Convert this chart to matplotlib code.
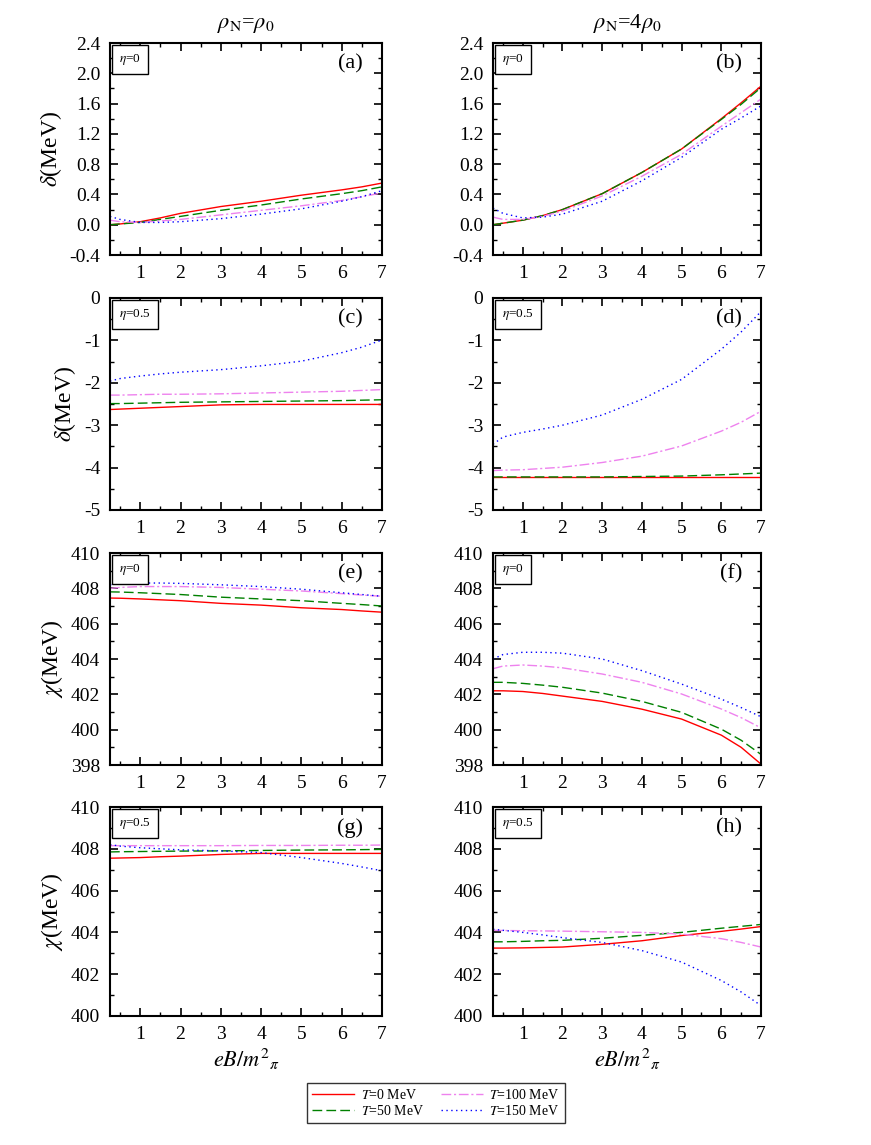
import numpy as np
import matplotlib
matplotlib.use('Agg')
import matplotlib.pyplot as plt
from matplotlib.ticker import MultipleLocator

plt.rcParams['font.family'] = ['Liberation Serif', 'DejaVu Serif']
plt.rcParams['mathtext.fontset'] = 'stix'
plt.rcParams['axes.unicode_minus'] = False

#######################################
#      data      #
#######################################
eB = [0.25, 0.5, 1, 1.5, 2, 3, 4, 5, 6, 6.5, 7]
labels = ['$T$=0 MeV', '$T$=50 MeV', '$T$=100 MeV', '$T$=150 MeV']

# (a) delta, rho=rho0, eta=0
a_T0 = [0.0, 0.01, 0.04, 0.09, 0.15, 0.24, 0.31, 0.39, 0.46, 0.50, 0.55]
a_T50 = [0.0, 0.01, 0.03, 0.07, 0.11, 0.19, 0.26, 0.34, 0.41, 0.45, 0.50]
a_T100 = [0.06, 0.04, 0.03, 0.05, 0.07, 0.13, 0.19, 0.25, 0.32, 0.37, 0.42]
a_T150 = [0.11, 0.07, 0.03, 0.03, 0.04, 0.08, 0.14, 0.21, 0.31, 0.37, 0.45]

# (b) delta, rho=4rho0, eta=0
b_T0 = [0.0, 0.02, 0.06, 0.12, 0.20, 0.41, 0.69, 1.00, 1.40, 1.61, 1.83]
b_T50 = [0.0, 0.02, 0.06, 0.12, 0.20, 0.41, 0.69, 1.00, 1.39, 1.59, 1.81]
b_T100 = [0.10, 0.07, 0.07, 0.11, 0.18, 0.38, 0.64, 0.93, 1.30, 1.48, 1.66]
b_T150 = [0.22, 0.15, 0.09, 0.10, 0.14, 0.31, 0.58, 0.89, 1.26, 1.41, 1.57]

# (c) delta, rho=rho0, eta=0.5
c_T0 = [-2.63, -2.62, -2.60, -2.58, -2.56, -2.52, -2.51, -2.51, -2.51, -2.51, -2.51]
c_T50 = [-2.49, -2.49, -2.48, -2.47, -2.46, -2.45, -2.44, -2.43, -2.42, -2.41, -2.40]
c_T100 = [-2.29, -2.29, -2.28, -2.27, -2.27, -2.26, -2.24, -2.22, -2.20, -2.18, -2.16]
c_T150 = [-1.96, -1.90, -1.84, -1.79, -1.75, -1.69, -1.60, -1.49, -1.29, -1.16, -0.99]

# (d) delta, rho=4rho0, eta=0.5
d_T0 = [-4.23, -4.23, -4.23, -4.23, -4.23, -4.23, -4.23, -4.23, -4.23, -4.23, -4.23]
d_T50 = [-4.22, -4.22, -4.22, -4.22, -4.22, -4.22, -4.21, -4.20, -4.17, -4.15, -4.13]
d_T100 = [-4.07, -4.06, -4.05, -4.02, -3.99, -3.88, -3.73, -3.49, -3.14, -2.93, -2.67]
d_T150 = [-3.45, -3.28, -3.17, -3.09, -3.00, -2.76, -2.39, -1.92, -1.21, -0.80, -0.32]

# (e) chi, rho=rho0, eta=0
e_T0 = [407.45, 407.44, 407.40, 407.35, 407.30, 407.15, 407.05, 406.90, 406.80, 406.72, 406.65]
e_T50 = [407.80, 407.79, 407.75, 407.70, 407.65, 407.50, 407.40, 407.30, 407.15, 407.08, 407.00]
e_T100 = [408.00, 408.05, 408.10, 408.10, 408.10, 408.05, 407.95, 407.85, 407.70, 407.62, 407.55]
e_T150 = [408.20, 408.25, 408.30, 408.30, 408.28, 408.20, 408.10, 407.95, 407.75, 407.65, 407.55]

# (f) chi, rho=4rho0, eta=0
f_T0 = [402.20, 402.20, 402.16, 402.05, 401.90, 401.60, 401.16, 400.60, 399.69, 399.00, 398.05]
f_T50 = [402.68, 402.68, 402.62, 402.52, 402.40, 402.07, 401.60, 400.98, 400.03, 399.40, 398.60]
f_T100 = [403.45, 403.60, 403.66, 403.60, 403.50, 403.15, 402.68, 402.02, 401.17, 400.68, 400.10]
f_T150 = [404.00, 404.25, 404.38, 404.38, 404.33, 404.00, 403.34, 402.58, 401.73, 401.25, 400.73]

# (g) chi, rho=rho0, eta=0.5
g_T0 = [407.55, 407.56, 407.58, 407.62, 407.65, 407.73, 407.78, 407.78, 407.78, 407.78, 407.78]
g_T50 = [407.85, 407.86, 407.87, 407.88, 407.89, 407.90, 407.92, 407.94, 407.95, 407.96, 407.97]
g_T100 = [408.15, 408.15, 408.15, 408.15, 408.15, 408.15, 408.16, 408.16, 408.17, 408.17, 408.18]
g_T150 = [408.20, 408.13, 408.05, 408.00, 407.95, 407.90, 407.82, 407.58, 407.30, 407.13, 406.95]

# (h) chi, rho=4rho0, eta=0.5
h_T0 = [403.25, 403.25, 403.26, 403.28, 403.30, 403.43, 403.60, 403.85, 404.05, 404.16, 404.28]
h_T50 = [403.55, 403.55, 403.57, 403.60, 403.62, 403.72, 403.86, 404.00, 404.20, 404.29, 404.38]
h_T100 = [404.10, 404.09, 404.08, 404.07, 404.06, 404.03, 404.00, 403.92, 403.70, 403.52, 403.30]
h_T150 = [404.15, 404.10, 404.00, 403.88, 403.75, 403.52, 403.13, 402.58, 401.70, 401.15, 400.50]

#######################################
#      styles and panel settings      #
#######################################
styles = [dict(color='#ff0000', ls='-'),
          dict(color='#008000', ls=(0, (7, 3))),
          dict(color='#ee82ee', ls=(0, (7, 2, 1.5, 2))),
          dict(color='#0000ff', ls=(0, (1, 2.5)))]

panels = [
    ('(a)', r'$\eta$=0', [a_T0, a_T50, a_T100, a_T150], (-0.4, 2.4), 0.4, 0.2),
    ('(b)', r'$\eta$=0', [b_T0, b_T50, b_T100, b_T150], (-0.4, 2.4), 0.4, 0.2),
    ('(c)', r'$\eta$=0.5', [c_T0, c_T50, c_T100, c_T150], (-5, 0), 1, 0.5),
    ('(d)', r'$\eta$=0.5', [d_T0, d_T50, d_T100, d_T150], (-5, 0), 1, 0.5),
    ('(e)', r'$\eta$=0', [e_T0, e_T50, e_T100, e_T150], (398, 410), 2, 1),
    ('(f)', r'$\eta$=0', [f_T0, f_T50, f_T100, f_T150], (398, 410), 2, 1),
    ('(g)', r'$\eta$=0.5', [g_T0, g_T50, g_T100, g_T150], (400, 410), 2, 1),
    ('(h)', r'$\eta$=0.5', [h_T0, h_T50, h_T100, h_T150], (400, 410), 2, 1),
]

W, H = 871, 1145
fig = plt.figure(figsize=(W / 100, H / 100), dpi=100)

col_x = [(110, 272), (493, 268)]
row_y = [(43, 212), (298, 212), (553, 212), (807, 209)]

lines = []
for i, (tag, eta, series, ylim, major, minor) in enumerate(panels):
    r, c = divmod(i, 2)
    x0, w = col_x[c]
    y0, h = row_y[r]
    ax = fig.add_axes([x0 / W, 1 - (y0 + h) / H, w / W, h / H])
    for ys, st in zip(series, styles):
        ln, = ax.plot(eB, ys, lw=1.0, **st)
        if i == 0:
            lines.append(ln)
    ax.set_xlim(0.25, 7)
    ax.set_ylim(*ylim)
    ax.xaxis.set_major_locator(MultipleLocator(1))
    ax.xaxis.set_minor_locator(MultipleLocator(0.5))
    ax.yaxis.set_major_locator(MultipleLocator(major))
    ax.yaxis.set_minor_locator(MultipleLocator(minor))
    if r < 2:
        ax.yaxis.set_major_formatter('{x:.1f}' if major < 1 else '{x:.0f}')
    ax.tick_params(which='both', direction='in', top=True, right=True, labelsize=14, pad=7)
    ax.tick_params(which='major', length=6, width=1.2)
    ax.tick_params(which='minor', length=3, width=1.0)
    for sp in ax.spines.values():
        sp.set_linewidth(1.5)
    ax.text(0.93, 0.90, tag, transform=ax.transAxes, ha='right', va='center', fontsize=16)
    ax.annotate(eta, xy=(0, 1), xycoords='axes fraction', xytext=(9, -9),
                textcoords='offset pixels', ha='left', va='top', fontsize=9.5,
                bbox=dict(boxstyle='square,pad=0.55', fc='white', ec='black', lw=1.0))
    if c == 0:
        ax.set_ylabel(r'$\delta$(MeV)' if r < 2 else r'$\chi$(MeV)', fontsize=17, labelpad=4)
    if r == 0:
        ax.set_title(r'$\rho_{\rm N}$=$\rho_0$' if c == 0 else r'$\rho_{\rm N}$=4$\rho_0$',
                     fontsize=16, pad=11)
    if r == 3:
        ax.set_xlabel(r'$eB/m^{2}{}_{\pi}$', fontsize=16, labelpad=3)

fig.legend(lines, labels, ncol=2, loc='center', bbox_to_anchor=(436 / W, 1 - 1103 / H),
           fontsize=10, frameon=True, fancybox=False, edgecolor='black',
           handlelength=3.0, columnspacing=1.2, handletextpad=0.5, labelspacing=0.15,
           borderpad=0.35)

plt.savefig('out.png', dpi=100)
